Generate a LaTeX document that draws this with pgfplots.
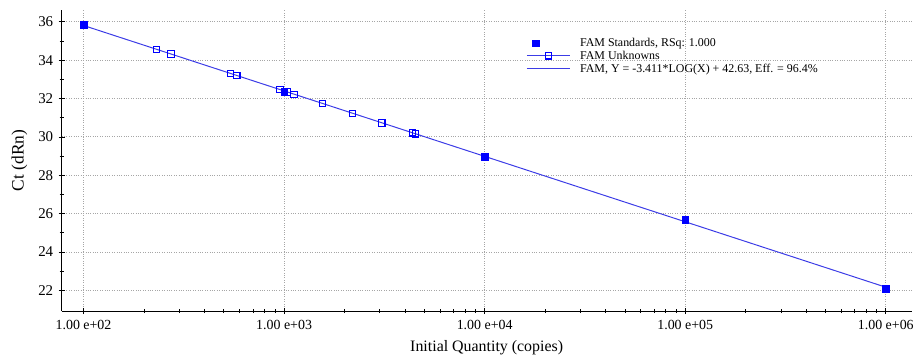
\documentclass[border=0pt]{standalone}
\usepackage{pgfplots}
\pgfplotsset{compat=1.18}
\usepackage{fontspec}
\setmainfont{Liberation Serif}
\definecolor{fitline}{RGB}{60,60,230}
\definecolor{markblue}{RGB}{0,0,255}
\begin{document}
\begin{tikzpicture}
\begin{axis}[
  name=ax,
  scale only axis,
  width=855pt, height=303pt,
  xmode=log,
  xmin=77.8, xmax=1.346e6,
  ymin=20.91, ymax=36.62,
  axis x line*=bottom, axis y line*=left,
  axis line style={black, line width=0.9pt, -},
  xtick={100,1000,10000,100000,1000000},
  xticklabels={1.00 e+02,1.00 e+03,1.00 e+04,1.00 e+05,1.00 e+06},
  ytick={22,24,26,28,30,32,34,36},
  minor ytick={23,25,27,29,31,33,35},
  tick align=center,
  major tick length=6pt, minor tick length=4pt,
  tick style={black, line width=0.7pt},
  xmajorgrids, ymajorgrids,
  major grid style={gray!70, dotted, line width=0.8pt},
  minor grid style={draw=none},
  /pgf/number format/assume math mode=true,
  xticklabel style={font=\fontsize{14}{16}\selectfont, yshift=-3pt},
  yticklabel style={font=\fontsize{15}{17}\selectfont, xshift=-2pt},
  xlabel={Initial Quantity (copies)},
  ylabel={Ct (dRn)},
  xlabel style={font=\fontsize{16}{18}\selectfont, yshift=-4pt},
  ylabel style={font=\fontsize{17.5}{19}\selectfont, yshift=4pt},
  legend style={at={(0.543,0.92)}, anchor=north west, draw=none, fill=none,
    font=\fontsize{12}{14}\selectfont, row sep=-1pt},
  legend cell align=left,
  /tikz/every odd column/.append style={column sep=8pt},
  clip=false,
]
\addplot[fitline, line width=1pt, forget plot] coordinates {(100,35.81) (1000000,22.16)};
\addplot[only marks, mark=square*, mark size=3.4pt, color=markblue] coordinates {
(100,35.85) (1000,32.35) (10000,28.98) (100000,25.68) (1000000,22.07)};
\addlegendentry{FAM Standards, RSq: 1.000}
\addplot[only marks, mark=square, mark size=3.2pt, color=markblue, mark options={draw=markblue, fill=none, line width=1.1pt},
  legend image code/.code={
    \draw[fitline, line width=1pt] (0pt,0pt) -- (43pt,0pt);
    \draw[draw=markblue, line width=1.1pt] (18.3pt,-3.2pt) rectangle (24.7pt,3.2pt);
  }] coordinates {
(231,34.55) (273,34.32) (541,33.30) (581,33.20) (955,32.47) (1040,32.34) (1122,32.22)
(1556,31.74) (2198,31.22) (3069,30.73) (4367,30.21) (4520,30.16)};
\addlegendentry{FAM Unknowns}
\addlegendimage{fitline, line width=1pt, legend image code/.code={\draw[fitline, line width=1pt] (0pt,0pt) -- (43pt,0pt);}}
\addlegendentry{FAM, Y = -3.411*LOG(X) + 42.63, Eff. = 96.4\%}
\end{axis}
\useasboundingbox ([shift={(-62pt,-51pt)}]ax.south west) rectangle ([shift={(0pt,10pt)}]ax.north east);
\end{tikzpicture}
\end{document}
